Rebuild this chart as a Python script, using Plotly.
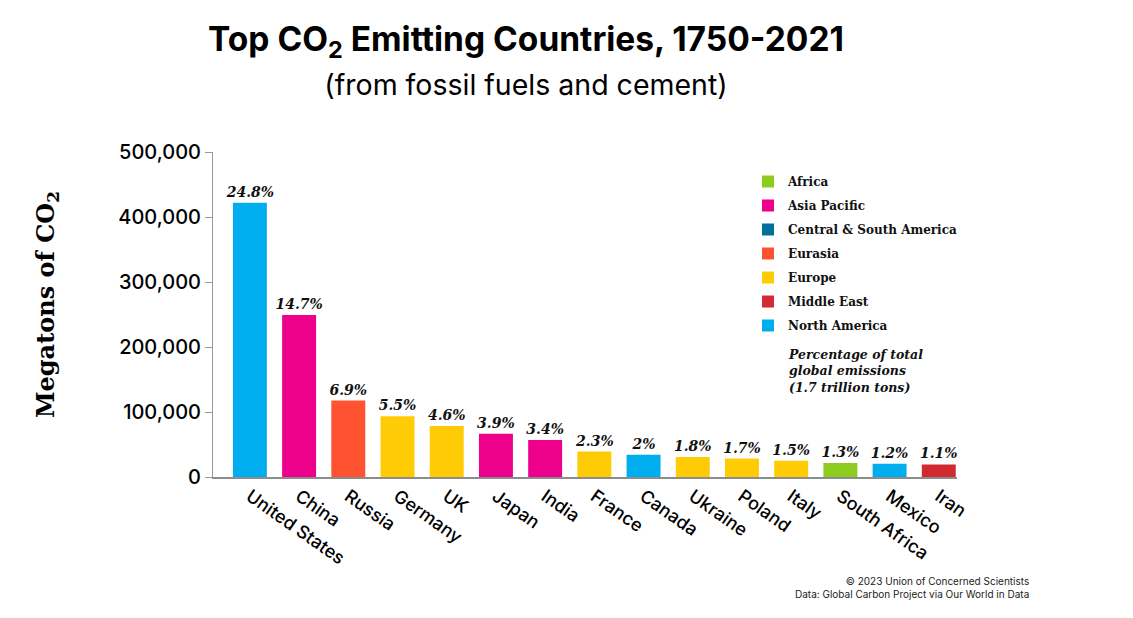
import plotly.graph_objects as go

countries = ["United States", "China", "Russia", "Germany", "UK", "Japan", "India",
             "France", "Canada", "Ukraine", "Poland", "Italy", "South Africa", "Mexico", "Iran"]
megatons = [421906, 249352, 117547, 93291, 78508, 66711, 57105,
            39105, 34115, 30787, 28300, 25020, 21380, 20395, 19361]
percents = ["24.8%", "14.7%", "6.9%", "5.5%", "4.6%", "3.9%", "3.4%",
            "2.3%", "2%", "1.8%", "1.7%", "1.5%", "1.3%", "1.2%", "1.1%"]
country_region = ["North America", "Asia Pacific", "Eurasia", "Europe", "Europe", "Asia Pacific",
                  "Asia Pacific", "Europe", "North America", "Europe", "Europe", "Europe",
                  "Africa", "North America", "Middle East"]
regions = ["Africa", "Asia Pacific", "Central & South America", "Eurasia", "Europe",
           "Middle East", "North America"]
region_colors = ["#8DCB1E", "#EC008C", "#00719C", "#FF5230", "#FFCB05", "#D12A31", "#00AEEF"]
y_ticks = [0, 100000, 200000, 300000, 400000, 500000]

SERIF = "DejaVu Serif"
SANS = "Inter"

OFF = 8  # page body margin
W, H = 1133, 618
# plot area in screen pixels
L, R, T, B = 213, 957, 152, 477
PW, PH = R - L, B - T

def px_x(p):
    return (p - L) / PW

def px_y(p):
    return (B - p) / PH

fig = go.Figure()
for reg, col in zip(regions, region_colors):
    xs = [c for c, r in zip(countries, country_region) if r == reg]
    ys = [v for v, r in zip(megatons, country_region) if r == reg]
    ts = [p for p, r in zip(percents, country_region) if r == reg]
    if not xs:
        xs, ys, ts = [countries[0]], [0], [""]
    fig.add_trace(go.Bar(
        x=xs, y=ys, name=reg, marker=dict(color=col, line=dict(width=0)),
        width=0.69, text=ts, textposition="outside", cliponaxis=False,
        constraintext="none",
        textfont=dict(family=SERIF, size=14, color="#111", style="italic", weight="bold"),
        legendgroup=reg,
    ))

fig.update_layout(
    width=W, height=H,
    paper_bgcolor="white", plot_bgcolor="white",
    margin=dict(l=L - OFF, r=W - R + OFF, t=T - OFF, b=H - B + OFF, autoexpand=False),
    barmode="relative",
    showlegend=True,
    title=dict(
        text="<b>Top CO<sub>2</sub> Emitting Countries, 1750-2021</b><br>"
             "<span style='font-size:28.5px;font-weight:400'>(from fossil fuels and cement)</span>",
        x=(526 - OFF) / W, xanchor="center", y=0.93, yanchor="top",
        font=dict(family=SANS, size=33.5, color="#000"),
    ),
    legend=dict(
        x=px_x(748), xanchor="left", y=px_y(167), yanchor="top",
        font=dict(family=SERIF, size=12, color="#111", weight="bold"),
        tracegroupgap=5, bgcolor="rgba(0,0,0,0)", traceorder="grouped",
    ),
    xaxis=dict(
        categoryorder="array", categoryarray=countries,
        range=[-0.75, 14.37], tickangle=35,
        showline=True, linecolor="#8c8c8c", linewidth=2,
        ticks="", showgrid=False,
        tickfont=dict(family=SANS, size=18, color="#000", weight=500),
    ),
    yaxis=dict(
        range=[0, 500000], tickvals=y_ticks, tickformat=",",
        showline=True, linecolor="#999", linewidth=1,
        ticks="outside", ticklen=7, tickcolor="#999",
        showgrid=False, zeroline=False,
        tickfont=dict(family=SANS, size=20, color="#000", weight=500),
    ),
    annotations=[
        dict(text="<b>Megatons of CO<sub>2</sub></b>", textangle=-90,
             xref="paper", yref="paper", x=px_x(47), y=px_y(305),
             xanchor="center", yanchor="middle", showarrow=False,
             font=dict(family=SERIF, size=24, color="#000")),
        dict(text="<b><i>Percentage of total<br>global emissions<br>(1.7 trillion tons)</i></b>",
             xref="paper", yref="paper", x=px_x(786), y=px_y(345),
             xanchor="left", yanchor="top", align="left", showarrow=False,
             font=dict(family=SERIF, size=12.5, color="#111")),
        dict(text="© 2023 Union of Concerned Scientists<br>Data: Global Carbon Project via Our World in Data",
             xref="paper", yref="paper", x=px_x(1031), y=px_y(573),
             xanchor="right", yanchor="top", align="right", showarrow=False,
             font=dict(family=SANS, size=10, color="#222")),
    ],
)

fig.write_html("out.html")
